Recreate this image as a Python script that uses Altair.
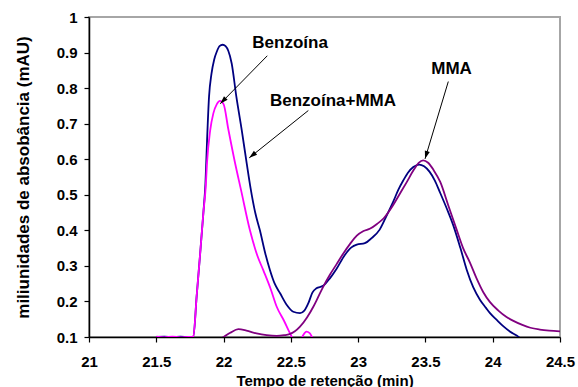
import math
import altair as alt
import pandas as pd

# Chromatograms: retention time (min) vs absorbance (mAU)
mix_t = [21.50, 21.56, 21.62, 21.68, 21.74, 21.775, 21.80, 21.825, 21.85, 21.865, 21.877,
         21.892, 21.91, 21.93, 21.95, 21.97, 21.993, 22.015, 22.035, 22.06, 22.095, 22.135,
         22.172, 22.20, 22.235, 22.27, 22.31, 22.345, 22.38, 22.42, 22.47, 22.518, 22.568,
         22.60, 22.63, 22.66, 22.69, 22.74, 22.79, 22.84, 22.90, 22.95, 22.99, 23.05, 23.10,
         23.16, 23.21, 23.26, 23.30, 23.335, 23.37, 23.41, 23.454, 23.49, 23.53, 23.57, 23.61,
         23.66, 23.707, 23.76, 23.806, 23.855, 23.905, 23.95, 23.98, 24.03, 24.08, 24.13,
         24.178, 24.22]
mix_a = [0.100, 0.101, 0.099, 0.101, 0.100, 0.100, 0.215, 0.330, 0.450, 0.530, 0.650,
         0.776, 0.840, 0.880, 0.903, 0.918, 0.922, 0.918, 0.905, 0.870, 0.776, 0.682,
         0.588, 0.520, 0.450, 0.400, 0.335, 0.288, 0.250, 0.223, 0.190, 0.171, 0.167,
         0.174, 0.195, 0.225, 0.237, 0.244, 0.265, 0.292, 0.330, 0.352, 0.360, 0.364, 0.378,
         0.402, 0.440, 0.480, 0.515, 0.540, 0.562, 0.578, 0.585, 0.580, 0.565, 0.540, 0.505,
         0.460, 0.414, 0.350, 0.290, 0.240, 0.205, 0.182, 0.167, 0.148, 0.130, 0.115,
         0.104, 0.092]

benz_t = [21.50, 21.56, 21.62, 21.68, 21.74, 21.775, 21.80, 21.825, 21.85, 21.867, 21.877,
          21.90, 21.924, 21.95, 21.973, 22.00, 22.035, 22.085, 22.13, 22.196, 22.25, 22.295,
          22.35, 22.395, 22.45, 22.494, 22.53, 22.565, 22.59, 22.615, 22.64, 22.665, 22.70]
benz_a = [0.101, 0.099, 0.101, 0.099, 0.100, 0.100, 0.215, 0.330, 0.450, 0.520, 0.590,
          0.680, 0.729, 0.755, 0.764, 0.755, 0.685, 0.590, 0.513, 0.400, 0.330, 0.288,
          0.235, 0.185, 0.145, 0.110, 0.088, 0.085, 0.104, 0.115, 0.111, 0.095, 0.080]

mma_t = [21.99, 22.00, 22.05, 22.11, 22.17, 22.245, 22.32, 22.395, 22.45, 22.49, 22.53,
         22.568, 22.62, 22.667, 22.70, 22.74, 22.79, 22.84, 22.89, 22.94, 22.99, 23.04,
         23.09, 23.14, 23.19, 23.25, 23.31, 23.36, 23.41, 23.45, 23.483, 23.52, 23.56, 23.61,
         23.67, 23.73, 23.78, 23.83, 23.88, 23.93, 23.98, 24.04, 24.10, 24.15, 24.22, 24.28,
         24.35, 24.42, 24.50]
mma_a = [0.098, 0.100, 0.112, 0.122, 0.118, 0.110, 0.105, 0.103, 0.105, 0.108, 0.116,
         0.129, 0.155, 0.185, 0.210, 0.241, 0.275, 0.305, 0.335, 0.362, 0.385, 0.398,
         0.405, 0.418, 0.434, 0.465, 0.503, 0.535, 0.568, 0.590, 0.597, 0.590, 0.570, 0.536,
         0.470, 0.404, 0.350, 0.310, 0.265, 0.226, 0.198, 0.175, 0.157, 0.146, 0.134, 0.126,
         0.121, 0.118, 0.116]

series_names = ["Benzoína+MMA", "Benzoína", "MMA"]
series_colors = ["#000080", "#FF00FF", "#800080"]

# Callouts: label text, label position, arrow start and arrow tip
label_text = ["Benzoína", "Benzoína+MMA", "MMA"]
label_x = [22.494, 22.813, 23.694]
label_y = [0.927, 0.764, 0.854]
arrow_x1 = [22.325, 22.63, 23.67]
arrow_y1 = [0.891, 0.737, 0.8185]
arrow_x2 = [21.975, 22.191, 23.497]
arrow_y2 = [0.756, 0.604, 0.601]

x_ticks = [21, 21.5, 22, 22.5, 23, 23.5, 24, 24.5]
y_ticks = [0.1, 0.2, 0.3, 0.4, 0.5, 0.6, 0.7, 0.8, 0.9, 1.0]

X_DOMAIN = [21, 24.5]
Y_DOMAIN = [0.1, 1.0]
W, H = 471, 320
FONT = "Liberation Sans"

frames = []
for name, t, a in zip(series_names, [mix_t, benz_t, mma_t], [mix_a, benz_a, mma_a]):
    frames.append(pd.DataFrame({"t": t, "a": a, "serie": name}))
curves = pd.concat(frames, ignore_index=True)

# Arrowhead orientation in screen space
sx = W / (X_DOMAIN[1] - X_DOMAIN[0])
sy = H / (Y_DOMAIN[1] - Y_DOMAIN[0])
angles = []
for x1, y1, x2, y2 in zip(arrow_x1, arrow_y1, arrow_x2, arrow_y2):
    dx = (x2 - x1) * sx
    dy = -(y2 - y1) * sy
    angles.append(math.degrees(math.atan2(dx, -dy)) % 360)

arrows = pd.DataFrame({"x1": arrow_x1, "y1": arrow_y1, "x2": arrow_x2, "y2": arrow_y2,
                       "ang": angles})
labels = pd.DataFrame({"label": label_text, "x": label_x, "y": label_y})

x_scale = alt.Scale(domain=X_DOMAIN, nice=False, zero=False)
y_scale = alt.Scale(domain=Y_DOMAIN, nice=False, zero=False)

X_TITLE = "Tempo de retenção (min)"
Y_TITLE = "miliunidades de absobância (mAU)"

x_axis = alt.Axis(values=x_ticks, format=".1~f", grid=False, labelFlush=False,
                  labelOverlap=False, tickSize=5, labelPadding=12, titlePadding=4)
y_axis = alt.Axis(values=y_ticks, format=".1~f", grid=False, tickSize=5, labelPadding=7,
                  labelOverlap=False, titleX=-66, titleY=H / 2, titleBaseline="middle",
                  titleAlign="center", titleAngle=270)


def xenc(field):
    return alt.X(field, scale=x_scale, axis=x_axis, title=X_TITLE)


def yenc(field):
    return alt.Y(field, scale=y_scale, axis=y_axis, title=Y_TITLE)


layers = []
for name, color in zip(series_names, series_colors):
    layers.append(
        alt.Chart(curves).transform_filter(alt.datum.serie == name)
        .mark_line(color=color, strokeWidth=1.8, interpolate="monotone", clip=True)
        .encode(x=xenc("t:Q"), y=yenc("a:Q"))
    )

shafts = alt.Chart(arrows).mark_rule(color="black", strokeWidth=1).encode(
    x=xenc("x1:Q"), y=yenc("y1:Q"), x2="x2:Q", y2="y2:Q")

heads = alt.Chart(arrows).mark_point(
    shape="M0,0 L-0.32,1 L0.32,1 Z", filled=True, color="black", opacity=1,
    size=256, strokeWidth=0
).encode(x=xenc("x2:Q"), y=yenc("y2:Q"), angle=alt.Angle("ang:Q", scale=None))

texts = alt.Chart(labels).mark_text(
    font=FONT, fontSize=17, fontWeight="bold", color="black", align="center",
    baseline="middle"
).encode(x=xenc("x:Q"), y=yenc("y:Q"), text="label:N")

chart = alt.layer(*layers, shafts, heads, texts).properties(
    width=W, height=H,
    autosize=alt.AutoSizeParams(type="none"),
    padding={"left": 89, "top": 17, "right": 18, "bottom": 50},
).configure_view(
    stroke="#a6a6a6", strokeWidth=2
).configure_axis(
    zindex=1,
    domainColor="black", domainWidth=1.5,
    tickColor="black", tickWidth=1.2,
    labelFont=FONT, labelFontSize=15, labelFontWeight="bold", labelColor="black",
    titleFont=FONT, titleFontSize=15, titleFontWeight="bold", titleColor="black",
).configure_axisY(
    titleFontSize=17
)

chart.save("out.html", embed_options={"renderer": "svg", "actions": False})
